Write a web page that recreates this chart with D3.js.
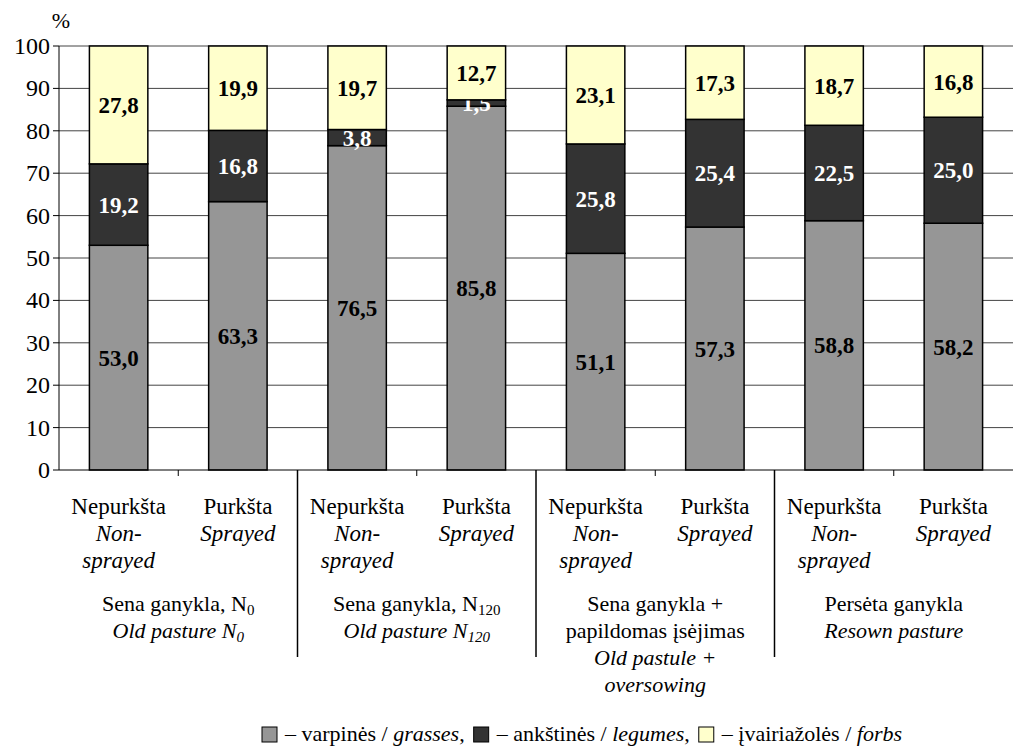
<!DOCTYPE html>
<html>
<head>
<meta charset="utf-8">
<script src="https://cdn.jsdelivr.net/npm/d3@7/dist/d3.min.js"></script>
</head>
<body style="margin:0">
<svg id="chart" width="1014" height="755"></svg>
<script>
// datos
const bars = ["n0_np", "n0_p", "n120_np", "n120_p", "ov_np", "ov_p", "rs_np", "rs_p"];
const treatLt = ["Nepurkšta", "Purkšta", "Nepurkšta", "Purkšta", "Nepurkšta", "Purkšta", "Nepurkšta", "Purkšta"];
const treatEn = [["Non-", "sprayed"], ["Sprayed"], ["Non-", "sprayed"], ["Sprayed"],
                 ["Non-", "sprayed"], ["Sprayed"], ["Non-", "sprayed"], ["Sprayed"]];
// cada grupo: lineas [texto, cursiva]; "_" marca el subindice
const groupLines = [
  [["Sena ganykla, N_0", false], ["Old pasture N_0", true]],
  [["Sena ganykla, N_120", false], ["Old pasture N_120", true]],
  [["Sena ganykla +", false], ["papildomas įsėjimas", false], ["Old pastule +", true], ["oversowing", true]],
  [["Persėta ganykla", false], ["Resown pasture", true]]
];
const grasses = [53.0, 63.3, 76.5, 85.8, 51.1, 57.3, 58.8, 58.2];
const legumes = [19.2, 16.8, 3.8, 1.5, 25.8, 25.4, 22.5, 25.0];
const forbs   = [27.8, 19.9, 19.7, 12.7, 23.1, 17.3, 18.7, 16.8];
const series = ["grasses", "legumes", "forbs"];
const seriesColor = ["#969696", "#333333", "#ffffcc"];
const labelColor = ["#000", "#fff", "#000"];
const legendLt = ["varpinės", "ankštinės", "įvairiažolės"];
const legendEn = ["grasses", "legumes", "forbs"];
const yTicks = [0, 10, 20, 30, 40, 50, 60, 70, 80, 90, 100];

const FONT = "Times New Roman";

const svg = d3.select("#chart");
const plotLeft = 59, plotRight = 1013, plotTop = 46, plotBottom = 470;

const x = d3.scaleBand().domain(bars).range([plotLeft, plotRight]).paddingInner(0.51).paddingOuter(0.255);
const y = d3.scaleLinear().domain([0, 100]).range([plotBottom, plotTop]);
const step = x.step();

// tabla para d3.stack
const table = bars.map((b, i) => ({ bar: b, grasses: grasses[i], legumes: legumes[i], forbs: forbs[i] }));
const stacked = d3.stack().keys(series)(table);

// texto con la fuente serif
function addText(parent, size) {
  return parent.append("text")
    .attr("font-family", FONT)
    .attr("font-size", size)
    .attr("fill", "#000");
}

// lineas de la grilla
svg.append("g")
  .selectAll("line")
  .data(yTicks.filter(t => t > 0))
  .enter().append("line")
  .attr("x1", plotLeft).attr("x2", plotRight)
  .attr("y1", d => y(d)).attr("y2", d => y(d))
  .attr("stroke", "#444").attr("stroke-width", 1);

// eje y (marcas y numeros con la escala)
svg.append("line")
  .attr("x1", plotLeft).attr("x2", plotLeft)
  .attr("y1", plotTop).attr("y2", plotBottom)
  .attr("stroke", "#000").attr("stroke-width", 1);
svg.append("g")
  .selectAll("line")
  .data(yTicks)
  .enter().append("line")
  .attr("x1", plotLeft - 6).attr("x2", plotLeft)
  .attr("y1", d => y(d)).attr("y2", d => y(d))
  .attr("stroke", "#000").attr("stroke-width", 1);
yTicks.forEach(t => {
  addText(svg, 24)
    .attr("x", plotLeft - 9).attr("y", y(t) + 8)
    .attr("text-anchor", "end")
    .text(t);
});

addText(svg, 22)
  .attr("x", 61).attr("y", 28)
  .attr("text-anchor", "middle")
  .text("%");

// barras apiladas
stacked.forEach((layer, si) => {
  const g = svg.append("g");
  g.selectAll("rect")
    .data(layer)
    .enter().append("rect")
    .attr("x", d => x(d.data.bar))
    .attr("width", x.bandwidth())
    .attr("y", d => y(d[1]))
    .attr("height", d => y(d[0]) - y(d[1]))
    .attr("fill", seriesColor[si])
    .attr("stroke", "#000")
    .attr("stroke-width", 1.5);

  g.selectAll("text")
    .data(layer)
    .enter().append("text")
    .attr("x", d => x(d.data.bar) + x.bandwidth() / 2)
    .attr("y", d => y((d[0] + d[1]) / 2) + 8)
    .attr("text-anchor", "middle")
    .attr("font-family", FONT)
    .attr("font-size", 23)
    .attr("font-weight", "bold")
    .attr("fill", labelColor[si])
    .text(d => d3.format(".1f")(d[1] - d[0]).replace(".", ","));
});

// eje x y marcas
svg.append("line")
  .attr("x1", plotLeft).attr("x2", plotRight)
  .attr("y1", plotBottom).attr("y2", plotBottom)
  .attr("stroke", "#000").attr("stroke-width", 1);

svg.append("g")
  .selectAll("line")
  .data(d3.range(1, bars.length))
  .enter().append("line")
  .attr("x1", i => plotLeft + i * step).attr("x2", i => plotLeft + i * step)
  .attr("y1", plotBottom)
  .attr("y2", i => (i % 2 === 0 ? 657 : plotBottom + 6))
  .attr("stroke", "#000").attr("stroke-width", i => (i % 2 === 0 ? 1.5 : 1));

// etiquetas de cada barra
const rowH = 27;
bars.forEach((b, i) => {
  const cx = x(b) + x.bandwidth() / 2;
  addText(svg, 23)
    .attr("x", cx).attr("y", 514)
    .attr("text-anchor", "middle")
    .text(treatLt[i]);
  treatEn[i].forEach((t, k) => {
    addText(svg, 23)
      .attr("x", cx).attr("y", 541 + k * rowH)
      .attr("text-anchor", "middle")
      .attr("font-style", "italic")
      .text(t);
  });
});

// etiquetas de grupo con subindices
groupLines.forEach((lines, gi) => {
  const cx = plotLeft + (gi * 2 + 1) * step;
  lines.forEach((ln, k) => {
    const parts = ln[0].split("_");
    const t = addText(svg, 22)
      .attr("x", cx).attr("y", 611 + k * rowH)
      .attr("text-anchor", "middle")
      .attr("font-style", ln[1] ? "italic" : "normal");
    t.append("tspan").text(parts[0]);
    if (parts[1]) {
      t.append("tspan")
        .attr("dy", 4)
        .attr("font-size", 15)
        .text(parts[1]);
    }
  });
});

// leyenda, colocada en secuencia
let lx = 262;
legendLt.forEach((l, i) => {
  svg.append("rect")
    .attr("x", lx).attr("y", 727)
    .attr("width", 15).attr("height", 15)
    .attr("fill", seriesColor[i])
    .attr("stroke", "#000").attr("stroke-width", 1);
  const t = addText(svg, 22)
    .attr("x", lx + 23).attr("y", 741);
  t.append("tspan").text("– " + l + " / ");
  t.append("tspan").attr("font-style", "italic").text(legendEn[i]);
  if (i < 2) t.append("tspan").text(",");
  lx += 23 + t.node().getComputedTextLength() + 9;
});
</script>
</body>
</html>
